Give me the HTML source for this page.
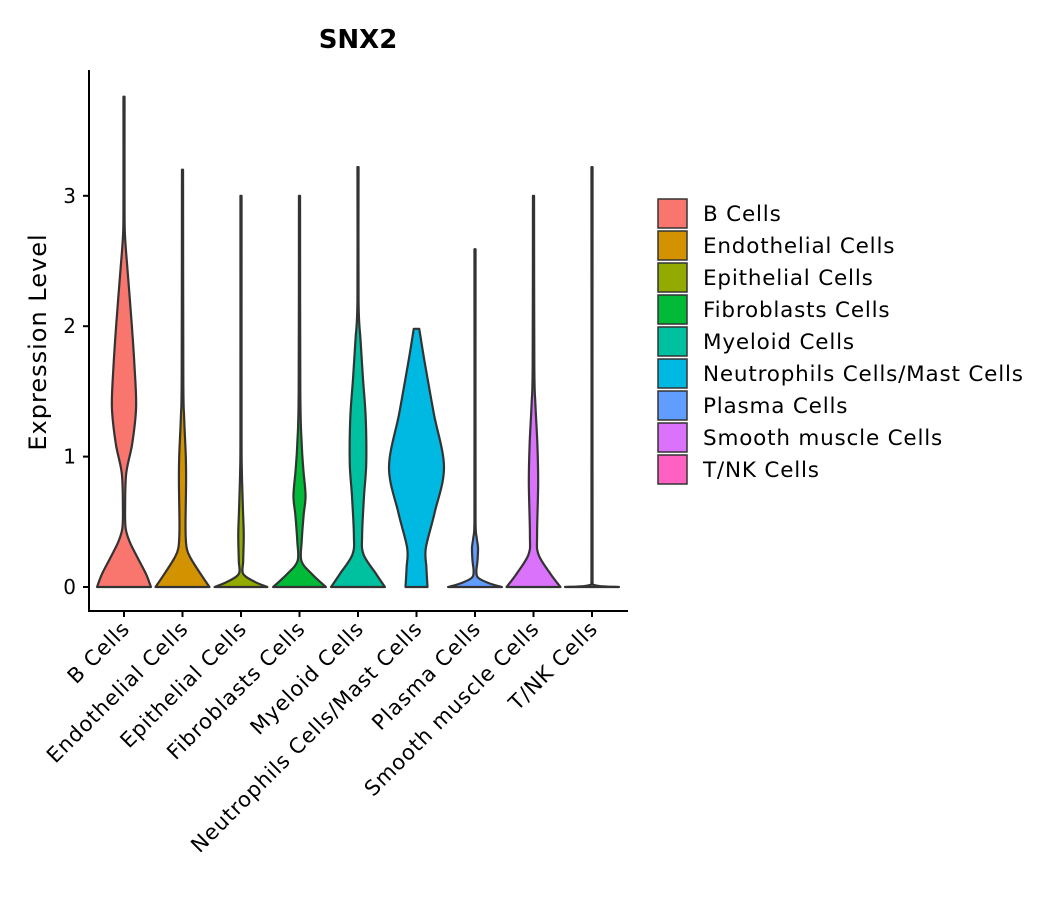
<!DOCTYPE html>
<html><head><meta charset="utf-8"><style>body{margin:0;background:#fff}svg{display:block;font-family:"DejaVu Sans","Liberation Sans",sans-serif}</style></head>
<body>
<svg id="chart" width="1057" height="900" viewBox="0 0 1057 900" xmlns="http://www.w3.org/2000/svg">
<text x="358" y="48" text-anchor="middle" font-size="26" font-weight="bold" fill="#000">SNX2</text>
<text transform="translate(46,342) rotate(-90)" text-anchor="middle" font-size="24" letter-spacing="1" fill="#000">Expression Level</text>
<g id="plot"></g>
<g id="legend"></g>
</svg>
<script>
const categories = ["B Cells","Endothelial Cells","Epithelial Cells","Fibroblasts Cells","Myeloid Cells","Neutrophils Cells/Mast Cells","Plasma Cells","Smooth muscle Cells","T/NK Cells"];
const colors = ["#F8766D","#D39200","#93AA00","#00BA38","#00C19F","#00B9E3","#619CFF","#DB72FB","#FF61C3"];
const yTicks = [0,1,2,3];
// density profiles: [expression value, relative half-width (0-1)]
const profB = [[0,0.98],[0.1,0.8],[0.23,0.48],[0.35,0.2],[0.45,0.06],[0.6,0.04],[0.87,0.08],[1.1,0.3],[1.38,0.44],[1.7,0.38],[2.02,0.28],[2.4,0.14],[2.68,0.04],[2.9,0.02],[3.76,0.02]];
const profEndo = [[0,0.98],[0.1,0.66],[0.22,0.3],[0.3,0.15],[0.45,0.11],[0.8,0.13],[1.0,0.12],[1.3,0.06],[1.6,0.03],[3.2,0.02]];
const profEpi = [[0,0.96],[0.04,0.5],[0.1,0.08],[0.2,0.08],[0.4,0.1],[0.6,0.07],[0.9,0.03],[1.2,0.02],[3.0,0.02]];
const profFib = [[0,0.96],[0.1,0.45],[0.2,0.07],[0.35,0.08],[0.55,0.15],[0.7,0.22],[0.9,0.14],[1.1,0.08],[1.5,0.03],[3.0,0.02]];
const profMye = [[0,0.98],[0.1,0.66],[0.25,0.2],[0.4,0.15],[0.7,0.22],[0.95,0.3],[1.3,0.28],[1.6,0.18],[1.9,0.09],[2.2,0.02],[3.22,0.02]];
const profNeut = [[0,0.4],[0.15,0.36],[0.3,0.34],[0.57,0.66],[0.92,1.0],[1.33,0.63],[1.72,0.3],[1.98,0.1]];
const profPlasma = [[0,0.98],[0.03,0.5],[0.07,0.12],[0.12,0.05],[0.2,0.09],[0.3,0.11],[0.38,0.06],[0.5,0.02],[2.59,0.02]];
const profSmooth = [[0,0.98],[0.1,0.62],[0.25,0.18],[0.4,0.13],[0.8,0.17],[1.1,0.14],[1.4,0.07],[1.7,0.03],[3.0,0.02]];
const profTNK = [[0,0.98],[0.02,0.02],[3.22,0.02]];
const profiles = [profB,profEndo,profEpi,profFib,profMye,profNeut,profPlasma,profSmooth,profTNK];

const NS="http://www.w3.org/2000/svg";
const x0=124, step=58.5, maxHW=27.5;
const xPos=i=>x0+i*step;
const yPos=v=>587-v*130.4;
const plot=document.getElementById('plot');
function mk(t,a,p){const e=document.createElementNS(NS,t);for(const k in a)e.setAttribute(k,a[k]);(p||plot).appendChild(e);return e;}
function clamp(v,a,b){const lo=Math.min(a,b),hi=Math.max(a,b);return Math.max(lo,Math.min(hi,v));}
function smooth(pts,cx,first){let d=first?("M"+pts[0][0]+","+pts[0][1]):"";
 for(let i=0;i<pts.length-1;i++){const p0=pts[Math.max(i-1,0)],p1=pts[i],p2=pts[i+1],p3=pts[Math.min(i+2,pts.length-1)];
  let c1=[p1[0]+(p2[0]-p0[0])/6,clamp(p1[1]+(p2[1]-p0[1])/6,p1[1],p2[1])],c2=[p2[0]-(p3[0]-p1[0])/6,clamp(p2[1]-(p3[1]-p1[1])/6,p1[1],p2[1])];
  const s=Math.sign(p1[0]-cx)||Math.sign(p2[0]-cx);
  c1[0]=s>0?Math.max(c1[0],cx+0.3):Math.min(c1[0],cx-0.3);
  c2[0]=s>0?Math.max(c2[0],cx+0.3):Math.min(c2[0],cx-0.3);
  d+=" C"+c1[0].toFixed(2)+","+c1[1].toFixed(2)+" "+c2[0].toFixed(2)+","+c2[1].toFixed(2)+" "+p2[0].toFixed(2)+","+p2[1].toFixed(2);}
 return d;}
profiles.forEach((pr,i)=>{
 const cx=xPos(i);
 const right=pr.map(p=>[cx+p[1]*maxHW,yPos(p[0])]);
 const left=pr.slice().reverse().map(p=>[cx-p[1]*maxHW,yPos(p[0])]);
 let d=smooth(right,cx,true);
 d+=" L"+left[0][0]+","+left[0][1]+smooth(left,cx,false)+" Z";
 const v=mk('path',{d:d,fill:colors[i],stroke:'#333',"stroke-width":2.2,"stroke-linejoin":"round"});
 
 
 const lb=mk('text',{transform:`translate(${cx+7},630) rotate(-45)`,"text-anchor":"end","font-size":21,"letter-spacing":0.9,fill:"#000"});
 lb.textContent=categories[i];
 
 
 const tk=mk('line',{x1:cx,x2:cx,y1:611,y2:617,stroke:'#000',"stroke-width":2});
 
 
});
yTicks.forEach(t=>{
 const tk=mk('line',{x1:83,x2:89,y1:yPos(t),y2:yPos(t),stroke:'#000',"stroke-width":2});
 
 
 const lb=mk('text',{x:76,y:yPos(t)+7,"text-anchor":"end","font-size":20,fill:"#000"});
 lb.textContent=t;
 
 
});
const ya=mk('line',{x1:89,x2:89,y1:70,y2:612,stroke:'#000',"stroke-width":2});


const xa=mk('line',{x1:88,x2:628,y1:611,y2:611,stroke:'#000',"stroke-width":2});


const lg=document.getElementById('legend');
categories.forEach((c,i)=>{
 const y=199+i*32;
 const r=mk('rect',{x:658,y:y,width:29,height:29,fill:colors[i],stroke:'#333',"stroke-width":1.5},lg);
 
 
 const t=mk('text',{x:703,y:y+22,"font-size":21.5,"letter-spacing":0.8,fill:"#000"},lg);
 t.textContent=c;
 
 
});
</script>
</body></html>
